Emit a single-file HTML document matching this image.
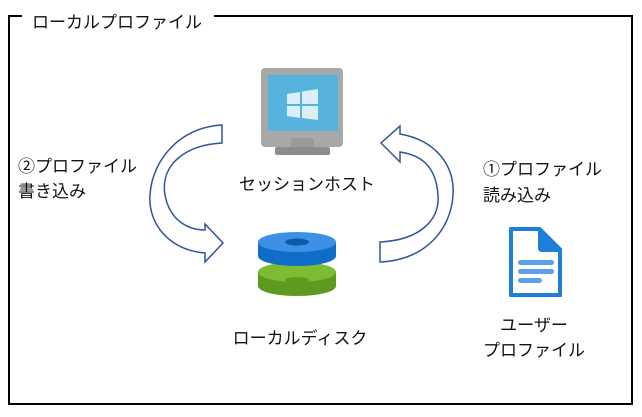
<!DOCTYPE html>
<html><head><meta charset="utf-8"><style>
body{margin:0;background:#fff;}
svg text{font-family:"Liberation Sans","Noto Sans CJK JP",sans-serif;font-size:17px;fill:#111;}
</style></head><body>
<svg width="642" height="412" viewBox="0 0 642 412" xmlns="http://www.w3.org/2000/svg">
<rect width="642" height="412" fill="#fff"/>
<path d="M22,16 L9,16 L9,404 L632,404 L632,16 L214,16" fill="none" stroke="#000" stroke-width="2"/>
<text x="32" y="28">ローカルプロファイル</text>
<!-- monitor -->
<rect x="261" y="68" width="82" height="79" rx="4" fill="#a8a8a8"/>
<rect x="268" y="75" width="70" height="56" fill="#55b3de"/>
<circle cx="302" cy="72" r="1" fill="#8fd14f"/>
<polygon points="287,94 300,92 300,104 287,104" fill="#dceef8"/>
<polygon points="302,91.5 318,89 318,104 302,104" fill="#dceef8"/>
<polygon points="287,106 300,106 300,118 287,116" fill="#dceef8"/>
<polygon points="302,106 318,106 318,120 302,118" fill="#dceef8"/>
<rect x="291" y="138" width="23" height="10" fill="#9a9a9a"/>
<rect x="275" y="147" width="55" height="8" rx="2" fill="#8c8c8c"/>
<text x="307" y="190" text-anchor="middle">セッションホスト</text>
<!-- arrows -->
<path d="M222,125 L222,143 C185,145 160,165 165,195 C170,222 190,230 205,230 L205,224 L223,243 L205,262 L205,253 C170,250 148,225 150,195 C152,160 180,127 222,125 Z" fill="#fff" stroke="#2f5597" stroke-width="1.5"/>
<path d="M380,262 L380,242 C420,240 440,220 438,195 C436,165 420,155 400,152 L400,162 L381,143 L400,126 L400,134 C435,140 455,165 453,195 C451,230 425,260 380,262 Z" fill="#fff" stroke="#2f5597" stroke-width="1.5"/>
<!-- disks -->
<path d="M258,272 L258,286 A39,10 0 0 0 336,286 L336,272 Z" fill="#5e9a20"/>
<ellipse cx="297" cy="272" rx="39" ry="10" fill="#7cbb32"/>
<ellipse cx="297" cy="280" rx="12" ry="3" fill="#5e9a20"/>
<path d="M258,242 L258,256 A39,10 0 0 0 336,256 L336,242 Z" fill="#0f6cc8"/>
<ellipse cx="297" cy="242" rx="39" ry="10" fill="#3c91e6"/>
<ellipse cx="297" cy="242" rx="12" ry="3.5" fill="#0a5aa8"/>
<text x="300" y="344" text-anchor="middle">ローカルディスク</text>
<!-- doc -->
<path d="M510,228 L540,228 L561,249 L561,296 L510,296 Z" fill="#1f7fd8" stroke="#1f7fd8" stroke-width="2" stroke-linejoin="round"/>
<path d="M513,231 L538,231 L538,248 Q538,252 542,252 L558,252 L558,293 L513,293 Z" fill="#fff"/>
<rect x="518" y="260" width="36" height="5" rx="2.5" fill="#5ba0ea"/>
<rect x="518" y="269" width="36" height="5" rx="2.5" fill="#5ba0ea"/>
<rect x="518" y="278" width="24" height="5" rx="2.5" fill="#5ba0ea"/>
<text x="534" y="331" text-anchor="middle">ユーザー</text>
<text x="534" y="356" text-anchor="middle">プロファイル</text>
<text x="18" y="172">②プロファイル</text>
<text x="18" y="197">書き込み</text>
<text x="483" y="175">①プロファイル</text>
<text x="483" y="201">読み込み</text>
</svg>
</body></html>
